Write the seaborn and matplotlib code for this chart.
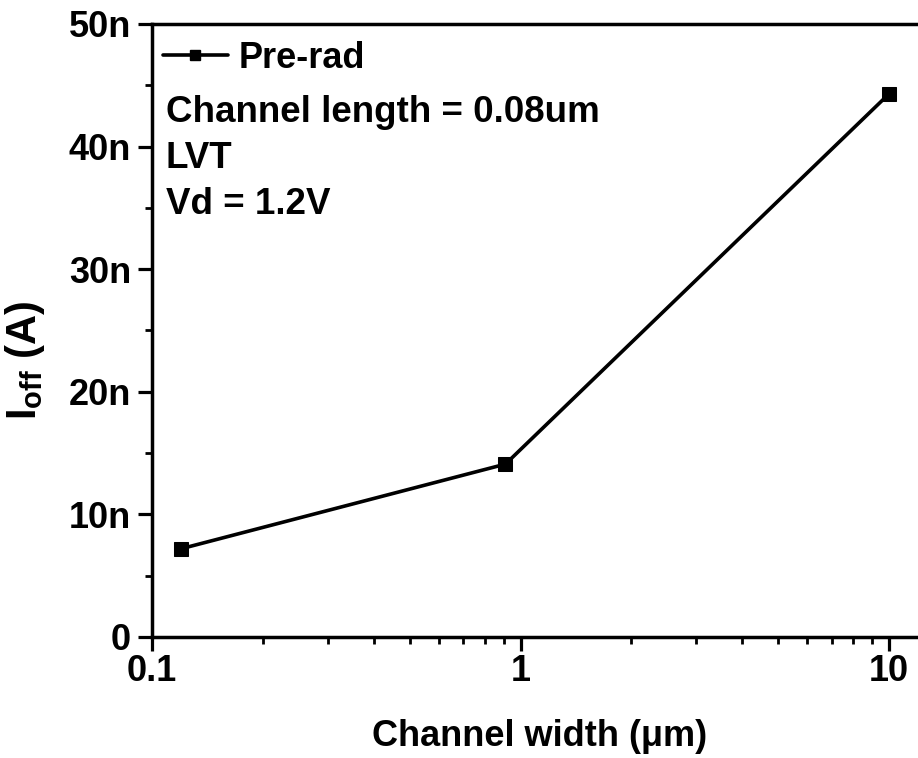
import matplotlib
matplotlib.use("Agg")
import matplotlib.pyplot as plt
import seaborn as sns
import numpy as np
import pandas as pd
from matplotlib.ticker import FuncFormatter, MultipleLocator, LogLocator, FixedLocator
from matplotlib.lines import Line2D

sns.set_theme(style="ticks")
plt.rcParams['font.family'] = ['Liberation Sans', 'DejaVu Sans']
plt.rcParams['font.weight'] = 'bold'
plt.rcParams['mathtext.fontset'] = 'custom'
plt.rcParams['mathtext.rm'] = 'Liberation Sans:bold'
plt.rcParams['mathtext.bf'] = 'Liberation Sans:bold'
plt.rcParams['mathtext.it'] = 'Liberation Sans:bold'

width_um = [0.12, 0.91, 10.0]
ioff_nA = [7.2, 14.1, 44.3]
series_name = "Pre-rad"
notes = ["Channel length = 0.08um", "LVT", "Vd = 1.2V"]

df = pd.DataFrame({"w": width_um, "i": np.array(ioff_nA) * 1e-9, "s": series_name})

fig = plt.figure(figsize=(9.18, 7.58), dpi=100)
ax = fig.add_axes([152/918, 1 - 637/758, 1 - 152/918 + 0.01, (637 - 24)/758])

sns.lineplot(data=df, x="w", y="i", hue="s", palette=["black"], marker="s",
             markersize=10, markeredgecolor="black", linewidth=2.6, ax=ax, legend=False)

ax.set_xscale("log")
dec = (889 - 152) / 2.0
xmax = 10 ** (1 + (918 + 0.01 * 918 - 889) / dec)
ax.set_xlim(0.1, xmax)
ax.set_ylim(0, 50e-9)

ax.xaxis.set_major_locator(FixedLocator([0.1, 1, 10]))
ax.xaxis.set_major_formatter(FuncFormatter(lambda v, p: {0.1: "0.1", 1: "1", 10: "10"}.get(round(v, 3), "")))
ax.xaxis.set_minor_locator(LogLocator(base=10, subs=np.arange(2, 10)))
ax.yaxis.set_major_locator(MultipleLocator(10e-9))
ax.yaxis.set_minor_locator(MultipleLocator(5e-9))
ax.yaxis.set_major_formatter(FuncFormatter(lambda v, p: "0" if abs(v) < 1e-12 else f"{v*1e9:.0f}n"))

for s in ["left", "bottom", "top"]:
    ax.spines[s].set_linewidth(2.5)
    ax.spines[s].set_color("black")
ax.spines["right"].set_visible(False)

ax.tick_params(which="major", direction="out", length=10, width=2.3, labelsize=26, pad=5, colors="black")
ax.tick_params(which="minor", direction="out", length=5, width=2.0, colors="black")
ax.tick_params(axis="x", which="major", pad=2)
ax.tick_params(axis="x", which="both", top=False)
ax.tick_params(axis="y", which="both", right=False)
for lab in ax.get_xticklabels() + ax.get_yticklabels():
    lab.set_fontweight("bold")

ax.set_xlabel("Channel width (μm)", fontsize=26, fontweight="bold", labelpad=22, color="black")
ax.set_ylabel(r"$\mathbf{I_{off}}$ (A)", fontsize=30, fontweight="bold", color="black")
ax.yaxis.set_label_coords(-0.135, (637 - 360) / 613)

h = Line2D([], [], color="black", marker="s", markersize=7, linewidth=2.6)
leg = ax.legend([h], [series_name], loc="center left", bbox_to_anchor=(-0.005, (637 - 58) / 613),
                frameon=False, prop={"size": 26, "weight": "bold"}, handlelength=1.8,
                handletextpad=0.3, borderaxespad=0.0, labelcolor="black")

y0 = (637 - 112) / 613
step = 46.5 / 613
for i, t in enumerate(notes):
    ax.text(0.018, y0 - i * step, t, transform=ax.transAxes, fontsize=26.5, fontweight="bold",
            va="center", ha="left", color="black")

fig.savefig("out.png", dpi=100)
